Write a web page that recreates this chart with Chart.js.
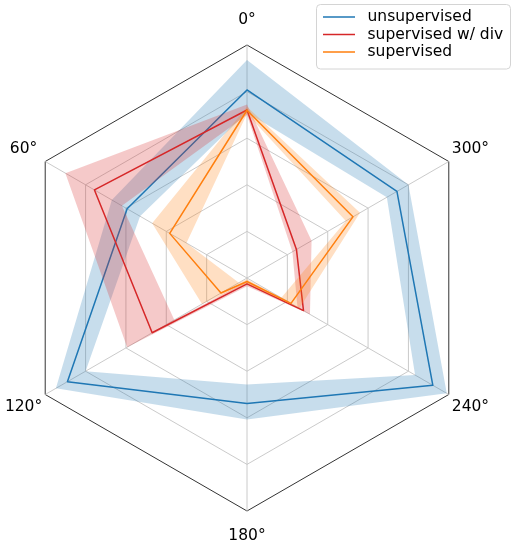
<!DOCTYPE html>
<html>
<head>
<meta charset="utf-8">
<script src="https://cdn.jsdelivr.net/npm/chart.js@4.4.1/dist/chart.umd.min.js"></script>
<style>
  html, body { margin: 0; padding: 0; background: #fff; }
  canvas { display: block; }
</style>
</head>
<body>
<canvas id="radar" width="512" height="542"></canvas>
<script>
// spokes, clockwise from the top
const angleLabels = ['0°', '300°', '240°', '180°', '120°', '60°'];

const unsupMean = [0.807, 0.743, 0.921, 0.539, 0.890, 0.594];
const unsupLow  = [0.710, 0.693, 0.833, 0.457, 0.800, 0.530];
const unsupHigh = [0.936, 0.800, 0.990, 0.607, 0.947, 0.670];

const divMean = [0.721, 0.245, 0.280, 0.025, 0.470, 0.756];
const divLow  = [0.700, 0.225, 0.250, 0.015, 0.360, 0.620];
const divHigh = [0.745, 0.320, 0.312, 0.035, 0.594, 0.900];

const supMean = [0.720, 0.525, 0.218, 0.015, 0.129, 0.383];
const supLow  = [0.705, 0.490, 0.170, 0.005, 0.040, 0.300];
const supHigh = [0.735, 0.560, 0.260, 0.025, 0.223, 0.470];

const FONT = '"DejaVu Sans", sans-serif';

const series = [
    { name: 'unsupervised', color: '#1f77b4', band: 'rgba(31,119,180,0.25)', mean: unsupMean, low: unsupLow, high: unsupHigh, order: 3 },
    { name: 'supervised w/ div', color: '#d62728', band: 'rgba(214,39,40,0.25)', mean: divMean, low: divLow, high: divHigh, order: 2 },
    { name: 'supervised', color: '#ff7f0e', band: 'rgba(255,127,14,0.25)', mean: supMean, low: supLow, high: supHigh, order: 1 },
];

// each series: mean line, then the upper edge filled down to the lower edge
const datasets = [];
series.forEach(s => {
    const common = { pointRadius: 0, pointHoverRadius: 0, tension: 0, order: s.order };
    datasets.push({ ...common, label: s.name, data: s.mean, borderColor: s.color, borderWidth: 1.5, borderJoinStyle: 'round', fill: false });
    datasets.push({ ...common, label: s.name + ' high', data: s.high, borderWidth: 0, borderColor: 'transparent', backgroundColor: s.band, fill: '+1' });
    datasets.push({ ...common, label: s.name + ' low', data: s.low, borderWidth: 0, borderColor: 'transparent', fill: false });
});

// angle labels around the frame
const spokeLabels = {
    id: 'spokeLabels',
    afterDraw(chart) {
        const ctx = chart.ctx;
        const scale = chart.scales.r;
        ctx.save();
        ctx.font = '15.5px ' + FONT;
        ctx.fillStyle = '#000';
        ctx.textAlign = 'center';
        ctx.textBaseline = 'middle';
        chart.data.labels.forEach((lab, i) => {
            const p = scale.getPointPosition(i, scale.drawingArea + 25);
            ctx.fillText(lab, p.x, p.y);
        });
        ctx.restore();
    }
};

// boxed legend in the top right corner
const legendBox = {
    id: 'legendBox',
    afterDraw(chart) {
        const ctx = chart.ctx;
        ctx.save();
        ctx.beginPath();
        ctx.roundRect(316.5, 4.5, 194, 64.5, 4);
        ctx.fillStyle = 'rgba(255,255,255,0.8)';
        ctx.fill();
        ctx.strokeStyle = '#d4d4d4';
        ctx.lineWidth = 1;
        ctx.stroke();
        ctx.font = '15.5px ' + FONT;
        ctx.textBaseline = 'middle';
        ctx.textAlign = 'left';
        series.forEach((s, i) => {
            const y = 17 + i * 17.5;
            ctx.beginPath();
            ctx.moveTo(323, y);
            ctx.lineTo(355, y);
            ctx.strokeStyle = s.color;
            ctx.lineWidth = 1.5;
            ctx.stroke();
            ctx.fillStyle = '#000';
            ctx.fillText(s.name, 367.5, y);
        });
        ctx.restore();
    }
};

new Chart(document.getElementById('radar'), {
    type: 'radar',
    data: { labels: angleLabels, datasets: datasets },
    options: {
        responsive: false,
        animation: false,
        events: [],
        layout: { padding: { left: 14, right: 32, top: 45, bottom: 31 } },
        plugins: {
            legend: { display: false },
            tooltip: { enabled: false },
        },
        scales: {
            r: {
                min: 0,
                max: 1,
                ticks: { display: false, stepSize: 0.2 },
                pointLabels: { display: false },
                grid: {
                    color: ctx => ctx.tick.value > 0.99 ? '#333333' : '#c4c4c4',
                    lineWidth: ctx => ctx.tick.value > 0.99 ? 1 : 0.9,
                },
                angleLines: { color: '#c4c4c4', lineWidth: 0.9 },
            },
        },
    },
    plugins: [spokeLabels, legendBox],
});
</script>
</body>
</html>
